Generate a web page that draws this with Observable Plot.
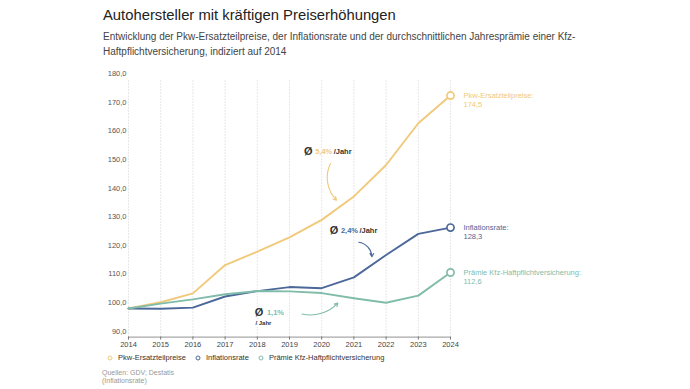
<!DOCTYPE html>
<html><head><meta charset="utf-8">
<script src="https://cdn.jsdelivr.net/npm/d3@7"></script>
<script src="https://cdn.jsdelivr.net/npm/@observablehq/plot@0.6"></script>
<style>
body{margin:0;background:#fff;font-family:"Liberation Sans",Arial,sans-serif;}
#wrap{position:relative;width:690px;height:389px;overflow:hidden;}
.abs{position:absolute;white-space:nowrap;}
#title{left:103px;top:7px;font-size:14.8px;line-height:17px;color:#222;}
#sub{left:103px;top:30px;font-size:10px;line-height:14.5px;color:#444;}
#legend{left:107px;top:353px;font-size:7.5px;color:#333;display:flex;gap:9px;align-items:center;}
#legend span{display:flex;align-items:center;gap:5px;}
#src{left:102px;top:369px;font-size:7px;line-height:7.8px;color:#999;}
#chart{position:absolute;left:0;top:60px;}
</style></head>
<body><div id="wrap">
<div id="title" class="abs">Autohersteller mit kräftigen Preiserhöhungen</div>
<div id="sub" class="abs">Entwicklung der Pkw-Ersatzteilpreise, der Inflationsrate und der durchschnittlichen Jahresprämie einer Kfz-<br>Haftpflichtversicherung, indiziert auf 2014</div>
<div id="chart"></div>
<div id="legend" class="abs"></div>
<div id="src" class="abs">Quellen: GDV; Destatis<br>(Inflationsrate)</div>
</div>
<script>
const years = [2014, 2015, 2016, 2017, 2018, 2019, 2020, 2021, 2022, 2023, 2024];
const pkw   = [100, 102.2, 105.3, 115.2, 119.9, 124.9, 131.0, 139.2, 150.2, 164.8, 174.5];
const infl  = [100, 99.9, 100.3, 104.2, 106.1, 107.5, 107.1, 110.9, 118.7, 126.1, 128.3];
const praem = [100, 101.7, 103.2, 105.0, 106.1, 106.0, 105.4, 103.6, 102.0, 104.5, 112.6];
const seriesNames = ["Pkw-Ersatzteilpreise", "Inflationsrate", "Prämie Kfz-Haftpflichtversicherung"];
const seriesColors = ["#f1c97a", "#4b6899", "#80bcaa"];
const yTicks = [90, 100, 110, 120, 130, 140, 150, 160, 170, 180];
const avgLabels = ["5,4%", "2,4%", "1,1%"];
// annotation anchors in data units (year, index value)
const annoX = [2019.58, 2020.38, 2018.05];
const annoY = [154.9, 127.3, 98.5];
const arrowFrom = [[2020.27, 150.7], [2021.15, 123.2], [2019.39, 98.1]];
const arrowTo   = [[2020.46, 137.9], [2021.56, 118.1], [2020.5, 101.9]];
const arrowBend = [-35, 40, -30];

const fmt = v => v.toFixed(1).replace(".", ",");
const allSeries = [pkw, infl, praem];
const rows = [];
allSeries.forEach((s, k) => s.forEach((v, i) => rows.push({year: years[i], value: v, series: seriesNames[k]})));
const last = allSeries.map((s, k) => ({year: years[years.length - 1], value: s[s.length - 1], series: seriesNames[k], color: seriesColors[k],
  label: seriesNames[k] + ":\n" + fmt(s[s.length - 1])}));
const annos = avgLabels.map((p, k) => ({x: annoX[k], y: annoY[k], pct: p, color: seriesColors[k]}));
const arrows = arrowFrom.map((f, k) => ({x1: f[0], y1: f[1], x2: arrowTo[k][0], y2: arrowTo[k][1], color: seriesColors[k], bend: arrowBend[k]}));

const chart = Plot.plot({
  width: 690, height: 290,
  marginLeft: 128, marginRight: 240, marginTop: 19.3, marginBottom: 13.4,
  style: {fontFamily: "Liberation Sans, Arial, sans-serif", fontSize: "7.5px", color: "#555", background: "transparent"},
  x: {domain: [2014, 2024], ticks: years, tickFormat: d => String(d)},
  y: {domain: [90, 180]},
  color: {domain: seriesNames, range: seriesColors},
  marks: [
    Plot.ruleX(years, {x: d => d, y1: 90, y2: 180, stroke: "#c4c4c4", strokeDasharray: "1,2", strokeWidth: 0.8}),
    Plot.ruleY([90], {stroke: "#777", strokeWidth: 0.8}),
    Plot.axisX({ticks: years, tickFormat: d => String(d), tickSize: 3, tickPadding: 2, stroke: "#777", fill: "#444"}),
    Plot.axisY({ticks: yTicks, tickFormat: fmt, tickSize: 0, tickPadding: 2, dy: -6, fill: "#555"}),
    Plot.line(rows, {x: "year", y: "value", z: "series", stroke: "series", strokeWidth: 1.9, strokeLinejoin: "round"}),
    Plot.dot(last, {x: "year", y: "value", stroke: "color", fill: "white", r: 3.6, strokeWidth: 1.7}),
    Plot.text(last, {x: "year", y: "value", text: "label", fill: "color", textAnchor: "start", lineAnchor: "top", dx: 13, dy: -4, lineHeight: 1.2}),
    ...arrows.map(a => Plot.arrow([a], {x1: "x1", y1: "y1", x2: "x2", y2: "y2", stroke: a.color, bend: a.bend, strokeWidth: 1.1, headLength: 5})),
    Plot.text(annos, {x: "x", y: "y", text: d => "Ø", fontSize: 11, fontWeight: "bold", fill: "#333"}),
    Plot.text(annos.slice(0, 2), {x: "x", y: "y", text: "pct", fill: "color", fontWeight: 600, textAnchor: "start", dx: 7}),
    Plot.text(annos.slice(0, 2), {x: "x", y: "y", text: d => "/Jahr", fill: "#333", fontWeight: 600, textAnchor: "start", dx: 25.5}),
    Plot.text(annos.slice(2), {x: "x", y: "y", text: "pct", fill: "color", fontWeight: 600, textAnchor: "start", dx: 8}),
    Plot.text(annos.slice(2), {x: "x", y: "y", text: d => "/ Jahr", fill: "#333", fontWeight: 600, textAnchor: "start", dx: -3.5, dy: 10, fontSize: 6})
  ]
});
document.getElementById("chart").appendChild(chart);

const leg = document.getElementById("legend");
seriesNames.forEach((n, k) => {
  const s = document.createElement("span");
  s.innerHTML = `<svg width="6" height="6"><circle cx="3" cy="3" r="2" fill="none" stroke="${seriesColors[k]}" stroke-width="1"/></svg>${n}`;
  leg.appendChild(s);
});
</script>
</body></html>
